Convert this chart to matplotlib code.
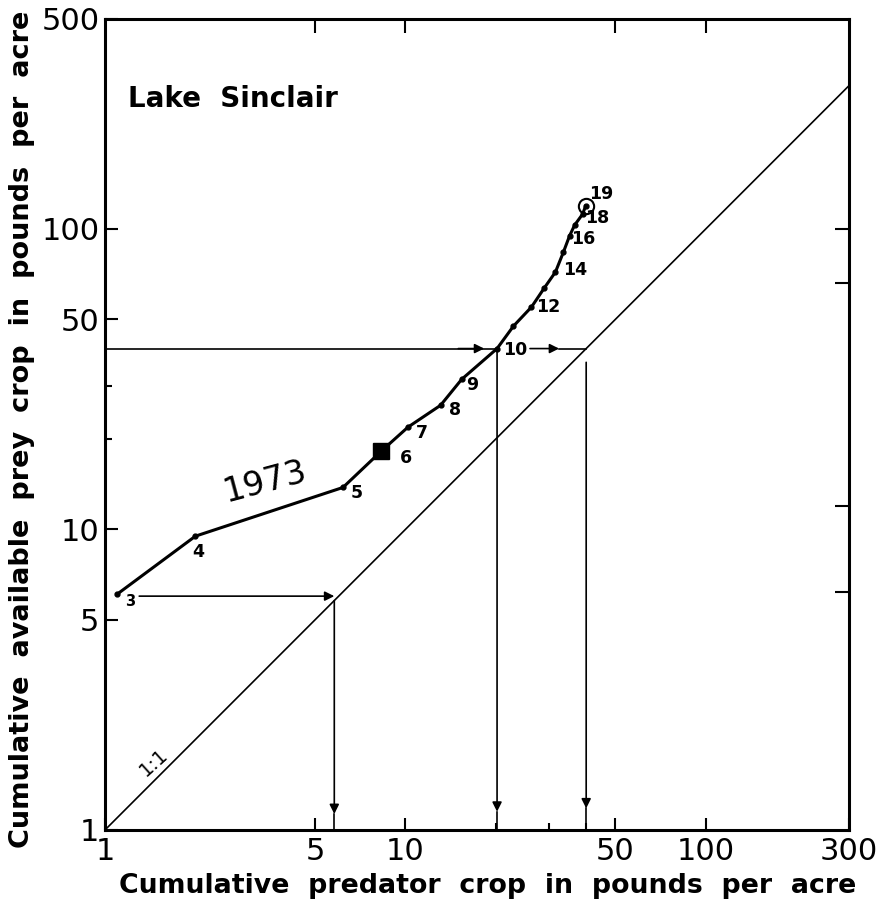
import matplotlib
matplotlib.use("Agg")
from matplotlib import pyplot as plt

# weekly cumulative values
weeks = [3, 4, 5, 6, 7, 8, 9, 10, 11, 12, 13, 14, 15, 16, 17, 18, 19]
predator = [1.1, 2.0, 6.2, 8.3, 10.2, 13.1, 15.4, 20.2, 22.9, 26.3, 29.0, 31.6, 33.6, 35.2, 36.6, 38.9, 39.8]
prey = [6.1, 9.5, 13.8, 18.2, 21.9, 25.9, 31.6, 40.0, 47.5, 55.0, 63.6, 71.9, 83.8, 94.8, 103, 112, 119]
labelled_weeks = [3, 4, 5, 6, 7, 8, 9, 10, 12, 14, 16, 18, 19]
label_offsets = {3: (13, -8), 4: (3, -16), 5: (14, -6), 6: (25, -7), 7: (14, -6),
                 8: (14, -5), 9: (11, -6), 10: (18, -1), 12: (17, 0), 14: (20, 2),
                 16: (14, -3), 18: (15, -4), 19: (16, 12)}

xticks = [1, 5, 10, 50, 100, 300]
yticks = [1, 5, 10, 50, 100, 500]
bottom_minor = [20, 30, 40]
left_minor = [20, 30]
top_ticks = [5, 10, 50, 100]
right_ticks = [6.2, 12, 66, 100]

# guide lines (prey level -> predator level)
guide_low = 5.8
guide_mid = 40.0
guide_mid_x = 20.2

plt.rcParams['font.family'] = ['DejaVu Sans']

fig = plt.figure(figsize=(8.8, 8.99), dpi=100)
ax = fig.add_axes([0.1193, 0.0768, 0.8455, 0.9021])
ax.set_xscale('log')
ax.set_yscale('log')
ax.set_xlim(1, 300)
ax.set_ylim(1, 500)

lw_thin = 1.2
k = 'black'

# 1:1 line
ax.plot([1, 300], [1, 300], color=k, lw=lw_thin)

# the 1973 curve
ax.plot(predator, prey, color=k, lw=2.2, marker='o', ms=3.5)
i6 = weeks.index(6)
ax.plot(predator[i6], prey[i6], marker='s', ms=12, color=k)
i19 = weeks.index(19)
ax.plot(predator[i19], prey[i19], marker='o', ms=11, mfc='none', mec=k, mew=1.5)

for w in labelled_weeks:
    i = weeks.index(w)
    dx, dy = label_offsets[w]
    fs = 10.5 if w == 3 else 12.5
    ax.annotate(str(w), (predator[i], prey[i]), xytext=(dx, dy), textcoords='offset pixels',
                ha='center', va='center', fontsize=fs, fontweight='bold')

arr = dict(arrowstyle='-|>', color=k, lw=lw_thin, mutation_scale=14, shrinkA=0, shrinkB=0)

# low guide: from week 3 across to 1:1, then down
ax.annotate('', xy=(guide_low, 6.0), xytext=(1.3, 6.0), arrowprops=arr)
ax.annotate('', xy=(guide_low, 1.13), xytext=(guide_low, guide_low), arrowprops=arr)
ax.plot([guide_low, guide_low], [1.13, 1], color=k, lw=lw_thin)

# mid guide: 40 lb prey
ax.plot([1, guide_mid_x], [guide_mid, guide_mid], color=k, lw=lw_thin)
ax.annotate('', xy=(18.3, guide_mid), xytext=(15, guide_mid), arrowprops=arr)
ax.annotate('', xy=(guide_mid_x, 1.15), xytext=(guide_mid_x, guide_mid), arrowprops=arr)
ax.plot([guide_mid_x, guide_mid_x], [1.15, 1], color=k, lw=lw_thin)

ax.annotate('', xy=(32.5, guide_mid), xytext=(26, guide_mid), arrowprops=arr)
ax.plot([32.5, guide_mid], [guide_mid, guide_mid], color=k, lw=lw_thin)
ax.annotate('', xy=(guide_mid, 1.18), xytext=(guide_mid, 36), arrowprops=arr)
ax.plot([guide_mid, guide_mid], [1.18, 1], color=k, lw=lw_thin)

# text
ax.text(1.19, 270, 'Lake  Sinclair', fontsize=20, fontweight='bold', ha='left', va='center')
ax.text(3.41, 14.4, '1973', fontsize=24, rotation=15, ha='center', va='center')
ax.text(1.45, 1.68, '1:1', fontsize=14, rotation=42, ha='center', va='center')

# axes styling
for s in ax.spines.values():
    s.set_linewidth(2.2)

ax.set_xticks(xticks)
ax.set_xticklabels([str(t) for t in xticks])
ax.set_xticks(bottom_minor, minor=True)
ax.set_yticks(yticks)
ax.set_yticklabels([str(t) for t in yticks])
ax.set_yticks(left_minor, minor=True)
ax.tick_params(which='both', direction='in', width=1.5, labelsize=22)
ax.tick_params(which='major', length=9)
ax.tick_params(which='minor', length=5)
ax.tick_params(axis='x', pad=5)
ax.tick_params(axis='y', pad=4)

top = ax.secondary_xaxis('top')
top.set_xticks(top_ticks)
top.set_xticklabels([])
top.tick_params(direction='in', length=10, width=1.5)
top.xaxis.set_minor_locator(matplotlib.ticker.NullLocator())

right = ax.secondary_yaxis('right')
right.set_yticks(right_ticks)
right.set_yticklabels([])
right.tick_params(direction='in', length=10, width=1.5)
right.yaxis.set_minor_locator(matplotlib.ticker.NullLocator())

fig.text(0.554, 0.0145, 'Cumulative  predator  crop  in  pounds  per  acre',
         fontsize=19.3, fontweight='bold', ha='center', va='center')
fig.text(0.025, 0.522, 'Cumulative  available  prey  crop  in  pounds  per  acre',
         fontsize=19.5, fontweight='bold', ha='center', va='center', rotation=90)

fig.savefig('out.png', dpi=100)
